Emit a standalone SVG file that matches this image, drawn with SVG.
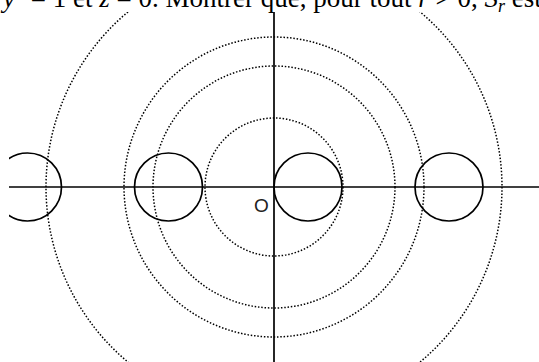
<svg xmlns="http://www.w3.org/2000/svg" width="539" height="362" viewBox="0 0 539 362">
<style>
.solid{fill:none;stroke:#000;stroke-width:1.7}
.dot{fill:none;stroke:#000;stroke-width:1.5;stroke-dasharray:1.5 1.8}
.txt{font-family:"Liberation Serif","Times New Roman",serif;font-size:27px;fill:#000}
.it{font-style:italic}
.lbl{font-family:"Liberation Sans",Arial,sans-serif;font-size:19px;fill:#222}
</style>
<defs>
<clipPath id="area"><rect x="9" y="12" width="530" height="350"/></clipPath>
</defs>
<rect width="539" height="362" fill="#fff"/>
<g clip-path="url(#area)">
<g id="level-circles" class="dot">
<circle cx="274" cy="187" r="69"/>
<circle cx="274" cy="187" r="121"/>
<circle cx="274" cy="187" r="150"/>
<circle cx="274" cy="187" r="228"/>
</g>
<g id="axes" class="solid">
<line x1="9" y1="187" x2="539" y2="187"/>
<line x1="274" y1="12" x2="274" y2="362"/>
</g>
<g id="circles" class="solid">
<circle id="c1" cx="27.5" cy="187" r="34"/>
<circle id="c2" cx="168.5" cy="187" r="34"/>
<circle id="c3" cx="308" cy="187" r="34"/>
<circle id="c4" cx="449" cy="187" r="34"/>
</g>
</g>
<text id="origin" class="lbl" x="254" y="211.5">O</text>
<text id="caption" class="txt" x="3" y="7"><tspan class="it">y</tspan><tspan dy="-10" font-size="18">2</tspan><tspan dy="10"> = 1 et </tspan><tspan class="it">z</tspan><tspan> = 0. Montrer que, pour tout </tspan><tspan class="it">r</tspan><tspan> &gt; 0, </tspan><tspan class="it">S</tspan><tspan class="it" dy="5" font-size="18">r</tspan><tspan dy="-5"> est</tspan></text>
</svg>
